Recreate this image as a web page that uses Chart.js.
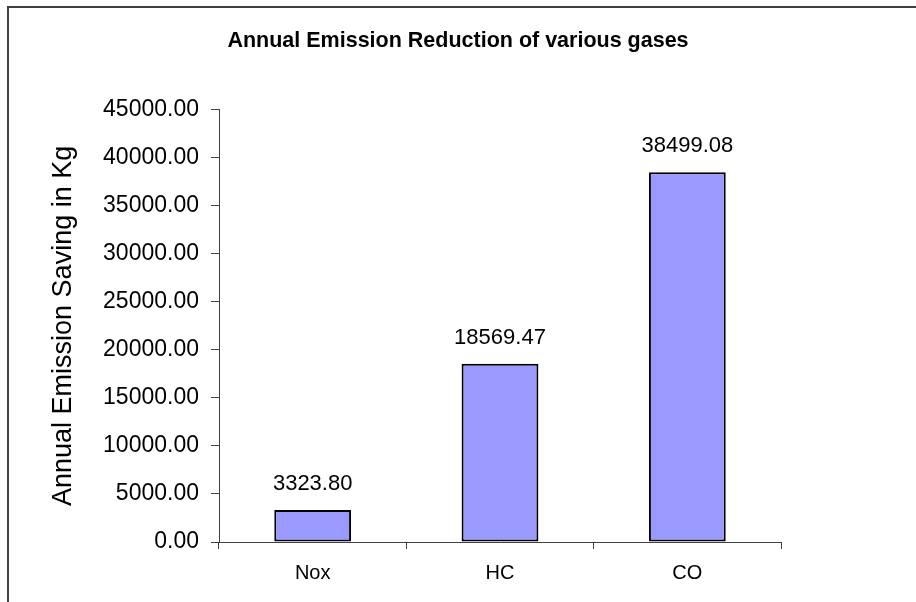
<!DOCTYPE html>
<html>
<head>
<meta charset="utf-8">
<script src="https://cdn.jsdelivr.net/npm/chart.js@4/dist/chart.umd.min.js"></script>
<style>
  html, body { margin: 0; padding: 0; background: #fff; }
  canvas { display: block; }
</style>
</head>
<body>
<canvas id="emissionChart" width="916" height="602"></canvas>
<script>
const categories = ["Nox", "HC", "CO"];
const savings = [3323.80, 18569.47, 38499.08];
const yTicks = [0, 5000, 10000, 15000, 20000, 25000, 30000, 35000, 40000, 45000];

const FONT = "'Liberation Sans', Arial, sans-serif";

// outer frame like the spreadsheet chart border (top + left edges visible)
const framePlugin = {
    id: "frame",
    beforeDraw(chart) {
        const ctx = chart.ctx;
        ctx.save();
        ctx.strokeStyle = "#404040";
        ctx.lineWidth = 2;
        ctx.beginPath();
        ctx.moveTo(8, chart.height);
        ctx.lineTo(8, 7);
        ctx.lineTo(chart.width, 7);
        ctx.stroke();
        ctx.restore();
    },
};

// value labels above each bar
const valueLabels = {
    id: "valueLabels",
    afterDatasetsDraw(chart) {
        const ctx = chart.ctx;
        const meta = chart.getDatasetMeta(0);
        ctx.save();
        ctx.font = "22px " + FONT;
        ctx.fillStyle = "#000";
        ctx.textAlign = "center";
        ctx.textBaseline = "alphabetic";
        meta.data.forEach((bar, i) => {
            ctx.fillText(savings[i].toFixed(2), bar.x, bar.y - 20);
        });
        ctx.restore();
    },
};

new Chart(document.getElementById("emissionChart"), {
    type: "bar",
    data: {
        labels: categories,
        datasets: [
            {
                data: savings,
                backgroundColor: "#9999FF",
                borderColor: "#000",
                borderWidth: 2,
                borderSkipped: false,
                categoryPercentage: 1,
                barPercentage: 0.41,
            },
        ],
    },
    options: {
        responsive: false,
        animation: false,
        devicePixelRatio: 1,
        layout: { padding: 0 },
        plugins: {
            legend: { display: false },
            tooltip: { enabled: false },
            title: {
                display: true,
                text: "Annual Emission Reduction of various gases",
                color: "#000",
                font: { family: FONT, size: 21.5, weight: "bold" },
                padding: { top: 28, bottom: 56 },
            },
        },
        scales: {
            x: {
                grid: {
                    display: true,
                    drawOnChartArea: false,
                    drawTicks: true,
                    tickLength: 7,
                    tickColor: "#404040",
                },
                border: { color: "#404040", width: 1 },
                ticks: {
                    color: "#000",
                    font: { family: FONT, size: 20 },
                    padding: 12,
                },
                afterFit(scale) { scale.height = 60; },
            },
            y: {
                min: 0,
                max: 45000,
                afterBuildTicks(scale) {
                    scale.ticks = yTicks.map((v) => ({ value: v }));
                },
                grid: {
                    display: true,
                    drawOnChartArea: false,
                    drawTicks: true,
                    tickLength: 8,
                    tickColor: "#404040",
                },
                border: { color: "#404040", width: 1 },
                ticks: {
                    color: "#000",
                    font: { family: FONT, size: 23 },
                    padding: 12,
                    callback: (v) => Number(v).toFixed(2),
                },
                title: {
                    display: true,
                    text: "Annual Emission Saving in Kg",
                    color: "#000",
                    font: { family: FONT, size: 27 },
                    padding: { top: 47, bottom: 0 },
                },
                afterFit(scale) { scale.width = 219; },
            },
            // empty right-hand spacer so the plot ends where the original does
            spacer: {
                type: "linear",
                position: "right",
                display: true,
                grid: { display: false },
                border: { display: false },
                ticks: { display: false },
                afterFit(scale) { scale.width = 135; },
            },
        },
    },
    plugins: [framePlugin, valueLabels],
});
</script>
</body>
</html>
